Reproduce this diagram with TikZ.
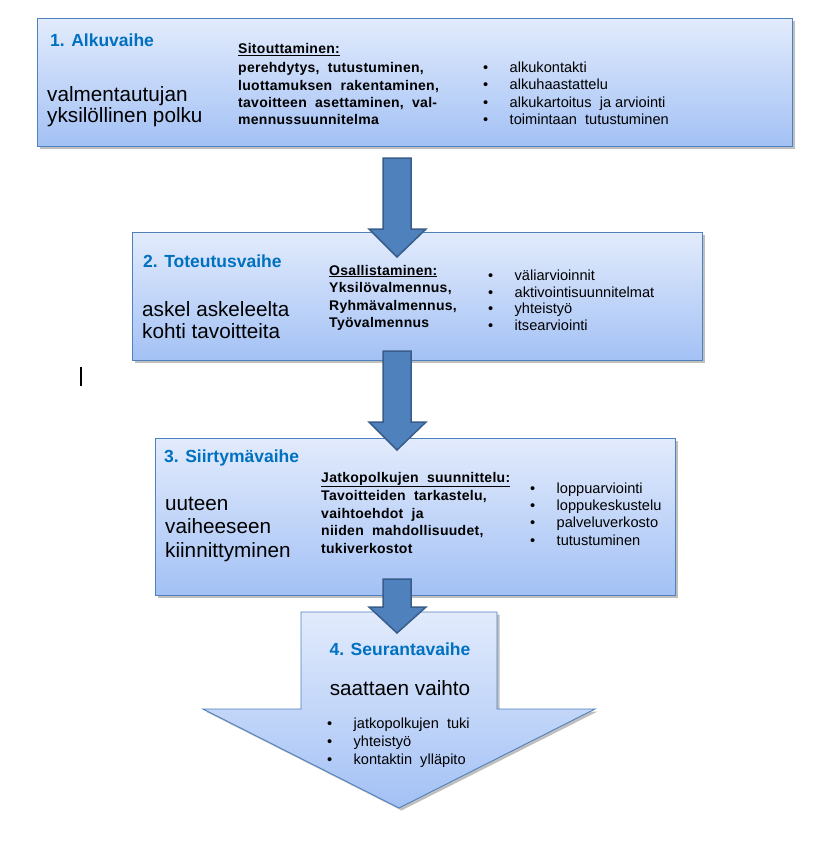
\documentclass[tikz,border=0pt]{standalone}
\usepackage{fontspec}
\setmainfont{Liberation Sans}
\usetikzlibrary{shadows}
\definecolor{boxtop}{RGB}{226,235,252}
\definecolor{boxbot}{RGB}{163,193,245}
\definecolor{boxline}{RGB}{79,129,189}
\definecolor{arrfill}{RGB}{79,129,189}
\definecolor{arrline}{RGB}{56,93,138}
\definecolor{headblue}{RGB}{0,112,192}
\newcommand\blockdown[3]{%
  \draw[smallarrow] (383,#1) -- (411,#1) -- (411,#2) -- (426,#2) -- (397,#3) -- (369,#2) -- (383,#2) -- cycle;}
\newcommand\bul[1]{\makebox[26.5pt][l]{•}#1}
\begin{document}
\begin{tikzpicture}[x=1pt,y=-1pt,
  phasebox/.style={draw=boxline, line width=0.9pt, top color=boxtop, bottom color=boxbot,
    drop shadow={shadow xshift=2.5pt, shadow yshift=-2.5pt, opacity=0.25, fill=black},
    inner sep=0pt, anchor=north west},
  smallarrow/.style={fill=arrfill, draw=arrline, line width=1.5pt, line join=miter},
  head/.style={font=\fontsize{17.5}{20}\selectfont\bfseries, text=headblue, anchor=base west, inner sep=0pt},
  big/.style={font=\fontsize{20.7}{23}\selectfont, anchor=base west, inner sep=0pt},
  bold/.style={font=\fontsize{14}{17}\selectfont\bfseries\addfontfeature{LetterSpace=2}, anchor=base west, inner sep=0pt},
  item/.style={font=\fontsize{14.6}{17}\selectfont, anchor=base west, inner sep=0pt}]
\useasboundingbox (0,0) rectangle (828,867);
\fill[white] (0,0) rectangle (828,867);

% boxes
\node[phasebox, minimum width=755pt, minimum height=128pt] (b1) at (37,18) {};
\node[phasebox, minimum width=570pt, minimum height=128pt] (b2) at (132,232) {};
\node[phasebox, minimum width=520pt, minimum height=157pt] (b3) at (155,438) {};

% big arrow 4
\path[draw=boxline, line width=0.9pt, top color=boxtop, bottom color=boxbot,
  drop shadow={shadow xshift=2.5pt, shadow yshift=-2.5pt, opacity=0.25, fill=black}]
  (301,612) -- (497,612) -- (497,709) -- (595,709) -- (399,808) -- (203,709) -- (301,709) -- cycle;

% small arrows
\blockdown{158}{229}{257}
\blockdown{351}{422}{450}
\blockdown{579}{607}{633}

% stray cursor mark
\draw[line width=1.6pt] (81,367) -- (81,386);

% box 1 texts
\node[head] (h1) at (50,47) {1. Alkuvaihe};
\node[big] (t1a) at (47,101) {valmentautujan};
\node[big] (t1b) at (47,122) {yksilöllinen polku};
\node[bold] (s1) at (238,54) {\underline{Sitouttaminen:}};
\node[bold] (s1a) at (238,72) {perehdytys,\ \ tutustuminen,};
\node[bold] (s1b) at (238,90) {luottamuksen\ \ rakentaminen,};
\node[bold] (s1c) at (238,107) {tavoitteen\ \ asettaminen,\ \ val-};
\node[bold] (s1d) at (238,124) {mennussuunnitelma};
\node[item] (i1a) at (483,72) {\bul{alkukontakti}};
\node[item] (i1b) at (483,89.5) {\bul{alkuhaastattelu}};
\node[item] (i1c) at (483,107) {\bul{alkukartoitus\ \ ja arviointi}};
\node[item] (i1d) at (483,124) {\bul{toimintaan\ \ tutustuminen}};

% box 2 texts
\node[head] (h2) at (143,267) {2. Toteutusvaihe};
\node[big] (t2a) at (142,316) {askel askeleelta};
\node[big] (t2b) at (142,338) {kohti tavoitteita};
\node[bold] (s2) at (329,275) {\underline{Osallistaminen:}};
\node[bold] (s2a) at (329,292) {Yksilövalmennus,};
\node[bold] (s2b) at (329,310) {Ryhmävalmennus,};
\node[bold] (s2c) at (329,327) {Työvalmennus};
\node[item] (i2a) at (488,280) {\bul{väliarvioinnit}};
\node[item] (i2b) at (488,297) {\bul{aktivointisuunnitelmat}};
\node[item] (i2c) at (488,313) {\bul{yhteistyö}};
\node[item] (i2d) at (488,330) {\bul{itsearviointi}};

% box 3 texts
\node[head] (h3) at (164,462) {3. Siirtymävaihe};
\node[big] (t3a) at (165,510) {uuteen};
\node[big] (t3b) at (165,533) {vaiheeseen};
\node[big] (t3c) at (165,557) {kiinnittyminen};
\node[bold] (s3) at (321,482) {\underline{Jatkopolkujen\ \ suunnittelu:}};
\node[bold] (s3a) at (321,500) {Tavoitteiden\ \ tarkastelu,};
\node[bold] (s3b) at (321,518) {vaihtoehdot\ \ ja};
\node[bold] (s3c) at (321,535) {niiden\ \ mahdollisuudet,};
\node[bold] (s3d) at (321,553) {tukiverkostot};
\node[item] (i3a) at (530,493) {\bul{loppuarviointi}};
\node[item] (i3b) at (530,510) {\bul{loppukeskustelu}};
\node[item] (i3c) at (530,527) {\bul{palveluverkosto}};
\node[item] (i3d) at (530,545) {\bul{tutustuminen}};

% arrow 4 texts
\node[head, anchor=base] (h4) at (400,655) {4. Seurantavaihe};
\node[big, anchor=base] (t4) at (400,695) {saattaen vaihto};
\node[item] (i4a) at (327,728) {\bul{jatkopolkujen\ \ tuki}};
\node[item] (i4b) at (327,746) {\bul{yhteistyö}};
\node[item] (i4c) at (327,764) {\bul{kontaktin\ \ ylläpito}};
\end{tikzpicture}
\end{document}
